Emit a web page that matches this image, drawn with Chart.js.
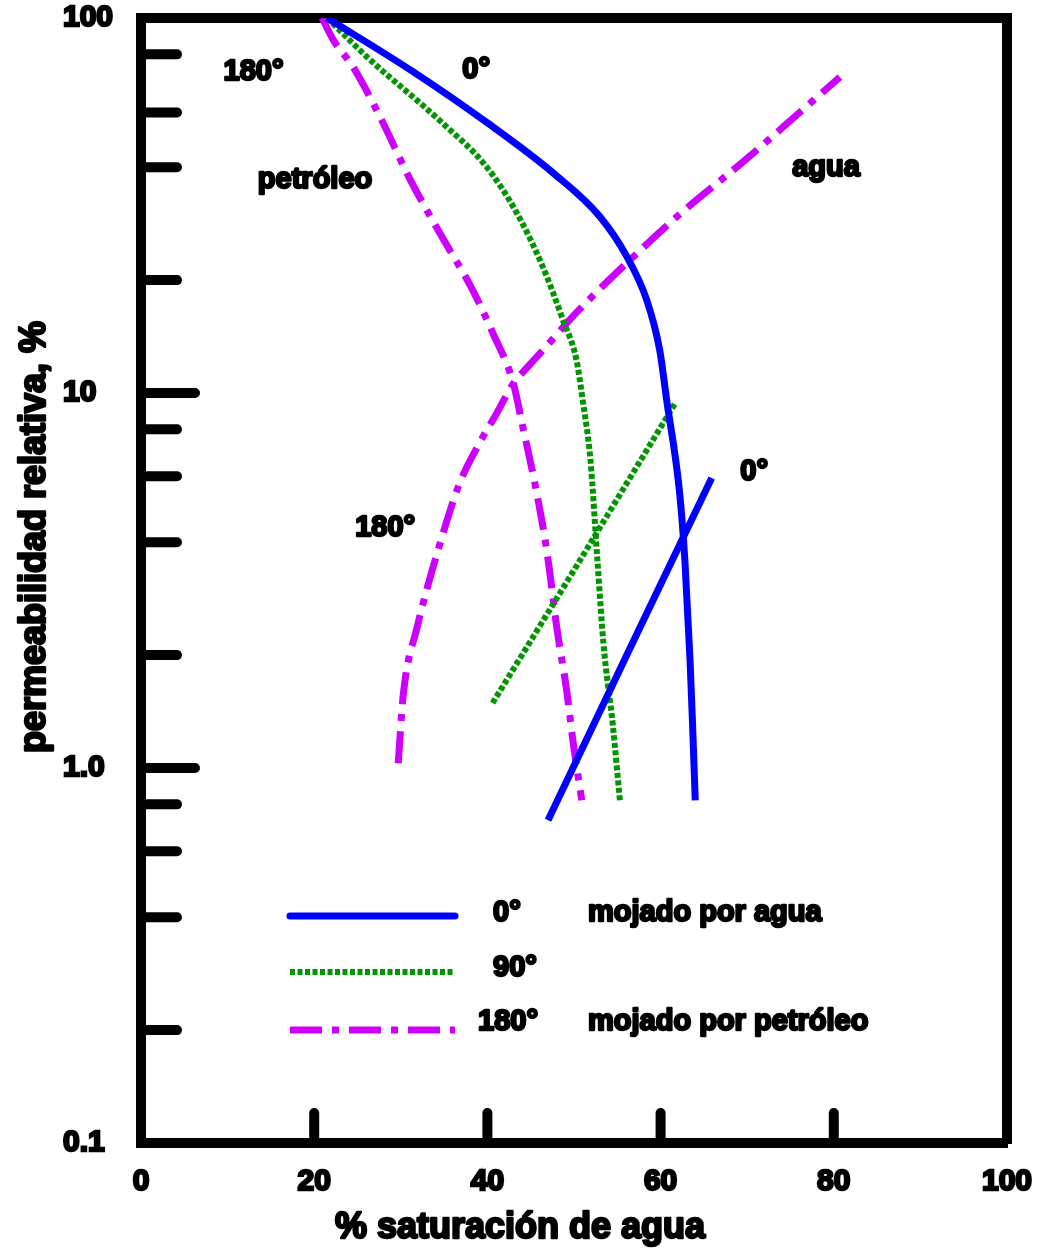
<!DOCTYPE html>
<html>
<head>
<meta charset="utf-8">
<script src="https://cdn.jsdelivr.net/npm/chart.js@4.4.1/dist/chart.umd.min.js"></script>
<style>
  html, body { margin: 0; padding: 0; background: #fff; }
  #wrap { width: 1056px; height: 1253px; }
</style>
</head>
<body>
<div id="wrap"><canvas id="kr" width="1056" height="1253"></canvas></div>
<script>
// saturación de agua (%) -> permeabilidad relativa (%)
// 0° (mojado por agua)
const sw0Oil = [21.5, 31.1, 40.0, 47.6, 53.0, 56.1, 58.4, 59.9, 60.7, 62.2, 62.8, 63.4, 63.7, 64.0];
const kr0Oil = [100, 72.7, 52.5, 38.6, 29.5, 23.1, 17.7, 13.0, 9.58, 5.41, 3.59, 1.94, 1.29, 0.82];
const sw0Water = [47.0, 56.4, 65.9];
const kr0Water = [0.726, 2.07, 5.93];

// 90°
const sw90Oil = [21.5, 26.1, 34.8, 39.9, 43.4, 46.4, 48.7, 50.3, 51.0, 51.9, 52.7, 53.4, 54.5, 55.3];
const kr90Oil = [100, 78.7, 52.5, 40.1, 30.2, 21.7, 15.7, 12.2, 9.58, 6.63, 3.59, 2.15, 1.29, 0.82];
const sw90Water = [40.6, 51.2, 61.7];
const kr90Water = [1.49, 3.74, 9.4];

// 180° (mojado por petróleo)
const sw180Oil = [20.9, 22.2, 24.5, 27.6, 31.1, 34.5, 38.3, 40.6, 43.0, 44.1, 45.7, 46.9, 48.0, 49.2, 49.9, 50.9];
const kr180Oil = [100, 87.4, 74.0, 54.5, 37.0, 26.7, 18.8, 14.5, 10.6, 8.1, 5.41, 3.74, 2.38, 1.58, 1.17, 0.82];
const sw180Water = [29.7, 30.3, 31.9, 34.2, 36.8, 39.1, 41.1, 43.0, 44.6, 46.4, 50.3, 56.7, 62.8, 69.5, 76.1, 80.7];
const kr180Water = [1.03, 1.58, 2.38, 3.74, 5.75, 7.36, 8.85, 10.6, 11.7, 13.0, 16.4, 22.9, 30.8, 41.3, 56.1, 69.6];

// ejes
const xTickValues = [0, 20, 40, 60, 80, 100];
const xTickLabels = ['0', '20', '40', '60', '80', '100'];
const xTickMarks = [20, 40, 60, 80];
const yTickValues = [0.1, 1, 10, 100];
const yTickLabels = ['0.1', '1.0', '10', '100'];
const yMajorMarks = [1, 10];
const yMinorMarks = [0.2, 0.4, 0.6, 0.8, 2, 4, 6, 8, 20, 40, 56, 80];

// leyenda
const legendAngles = ['0°', '90°', '180°'];
const legendNotes = ['mojado por agua', '', 'mojado por petróleo'];

const BLUE = '#0000ff';
const GREEN = '#009600';
const MAGENTA = '#cc00ff';
const DOTS = [5, 2.5];
const DASHDOT = [32, 10, 7, 10];
const FONT = '"Liberation Sans", Arial, sans-serif';
const STROKE = 2.4;

function pts(xs, ys) {
    return xs.map((v, i) => ({ x: v, y: ys[i] }));
}

function heavyText(ctx, text, x, y, size, align) {
    ctx.save();
    ctx.font = 'bold ' + size + 'px ' + FONT;
    ctx.textAlign = align || 'center';
    ctx.textBaseline = 'middle';
    ctx.fillStyle = '#000';
    ctx.strokeStyle = '#000';
    ctx.lineWidth = STROKE;
    ctx.lineJoin = 'round';
    ctx.fillText(text, x, y);
    ctx.strokeText(text, x, y);
    ctx.restore();
}

// rótulos dentro del gráfico, en coordenadas de datos
const curveNotes = [
    { text: '180°', sw: 13.0, kr: 71.8 },
    { text: '0°', sw: 38.7, kr: 72.6 },
    { text: 'petróleo', sw: 20.1, kr: 37.0 },
    { text: 'agua', sw: 79.1, kr: 39.8 },
    { text: '180°', sw: 28.2, kr: 4.37 },
    { text: '0°', sw: 70.8, kr: 6.15 }
];

// marcas de graduación hacia dentro del marco
const tickMarks = {
    id: 'tickMarks',
    afterDraw(chart) {
        const ctx = chart.ctx;
        const xs = chart.scales.x, ys = chart.scales.y;
        const left = chart.chartArea.left, bottom = chart.chartArea.bottom;
        ctx.save();
        ctx.strokeStyle = '#000';
        ctx.lineWidth = 10;
        ctx.lineCap = 'round';
        ctx.beginPath();
        yMinorMarks.forEach(v => {
            const py = ys.getPixelForValue(v);
            ctx.moveTo(left, py);
            ctx.lineTo(left + 36, py);
        });
        yMajorMarks.forEach(v => {
            const py = ys.getPixelForValue(v);
            ctx.moveTo(left, py);
            ctx.lineTo(left + 54, py);
        });
        xTickMarks.forEach(v => {
            const px = xs.getPixelForValue(v);
            ctx.moveTo(px, bottom);
            ctx.lineTo(px, bottom - 30);
        });
        ctx.stroke();
        ctx.restore();
    }
};

// títulos de ejes, rótulos de curvas y leyenda
const chartTexts = {
    id: 'chartTexts',
    afterDraw(chart) {
        const ctx = chart.ctx;
        const xs = chart.scales.x, ys = chart.scales.y;

        curveNotes.forEach(n => {
            heavyText(ctx, n.text, xs.getPixelForValue(n.sw), ys.getPixelForValue(n.kr), 29);
        });

        heavyText(ctx, '% saturación de agua', 520, 1228, 36);
        ctx.save();
        ctx.translate(35, 537);
        ctx.rotate(-Math.PI / 2);
        heavyText(ctx, 'permeabilidad relativa, %', 0, 0, 36);
        ctx.restore();

        // leyenda: una muestra por ángulo
        const rows = [0, 2, 4];
        const lineY = [916, 972, 1030];
        const textY = [913, 968, 1022];
        const angleX = [493, 493, 478];
        rows.forEach((di, i) => {
            const ds = chart.data.datasets[di];
            ctx.save();
            ctx.strokeStyle = ds.borderColor;
            ctx.lineWidth = ds.borderWidth;
            ctx.setLineDash(ds.borderDash || []);
            ctx.lineCap = ds.borderDash ? 'butt' : 'round';
            ctx.beginPath();
            ctx.moveTo(290, lineY[i]);
            ctx.lineTo(455, lineY[i]);
            ctx.stroke();
            ctx.restore();
            heavyText(ctx, legendAngles[i], angleX[i], textY[i], 29, 'left');
            if (legendNotes[i]) heavyText(ctx, legendNotes[i], 588, textY[i], 29, 'left');
        });
    }
};

function lineSet(xs, ys, color, dash, curved) {
    const ds = {
        data: pts(xs, ys),
        borderColor: color,
        borderWidth: dash === DOTS ? 6 : 7,
        borderDash: dash,
        tension: 0,
        pointRadius: 0,
        fill: false
    };
    if (curved) ds.cubicInterpolationMode = 'monotone';
    return ds;
}

const frameBorder = { display: true, width: 10, color: '#000' };
const tickFont = { family: FONT, size: 30, weight: 'bold' };

new Chart(document.getElementById('kr'), {
    type: 'line',
    data: {
        datasets: [
            lineSet(sw0Oil, kr0Oil, BLUE, undefined, true),
            lineSet(sw0Water, kr0Water, BLUE, undefined, false),
            lineSet(sw90Oil, kr90Oil, GREEN, DOTS, true),
            lineSet(sw90Water, kr90Water, GREEN, DOTS, false),
            lineSet(sw180Oil, kr180Oil, MAGENTA, DASHDOT, true),
            lineSet(sw180Water, kr180Water, MAGENTA, DASHDOT, true)
        ]
    },
    options: {
        responsive: false,
        animation: false,
        devicePixelRatio: 1,
        layout: { padding: { top: 18, right: 49, bottom: 0, left: 63 } },
        plugins: {
            legend: { display: false },
            tooltip: { enabled: false }
        },
        scales: {
            x: {
                type: 'linear',
                position: 'bottom',
                min: 0,
                max: 100,
                grid: { display: false },
                border: frameBorder,
                afterFit: s => { s.height = 110; },
                afterBuildTicks: s => { s.ticks = xTickValues.map(v => ({ value: v })); },
                ticks: {
                    autoSkip: false,
                    maxRotation: 0,
                    padding: 13,
                    color: '#000',
                    font: tickFont,
                    textStrokeColor: '#000',
                    textStrokeWidth: STROKE,
                    callback: (v, i) => xTickLabels[i]
                }
            },
            y: {
                type: 'logarithmic',
                position: 'left',
                min: 0.1,
                max: 100,
                grid: { display: false },
                border: frameBorder,
                afterFit: s => { s.width = 78; },
                afterBuildTicks: s => { s.ticks = yTickValues.map(v => ({ value: v })); },
                ticks: {
                    autoSkip: false,
                    crossAlign: 'far',
                    padding: 0,
                    color: '#000',
                    font: tickFont,
                    textStrokeColor: '#000',
                    textStrokeWidth: STROKE,
                    callback: (v, i) => yTickLabels[i]
                }
            },
            xTop: {
                type: 'linear',
                position: 'top',
                min: 0,
                max: 100,
                grid: { display: false },
                border: frameBorder,
                ticks: { display: false },
                afterFit: s => { s.height = 0; }
            },
            yRight: {
                type: 'linear',
                position: 'right',
                min: 0,
                max: 1,
                grid: { display: false },
                border: frameBorder,
                ticks: { display: false },
                afterFit: s => { s.width = 0; }
            }
        }
    },
    plugins: [tickMarks, chartTexts]
});
</script>
</body>
</html>
